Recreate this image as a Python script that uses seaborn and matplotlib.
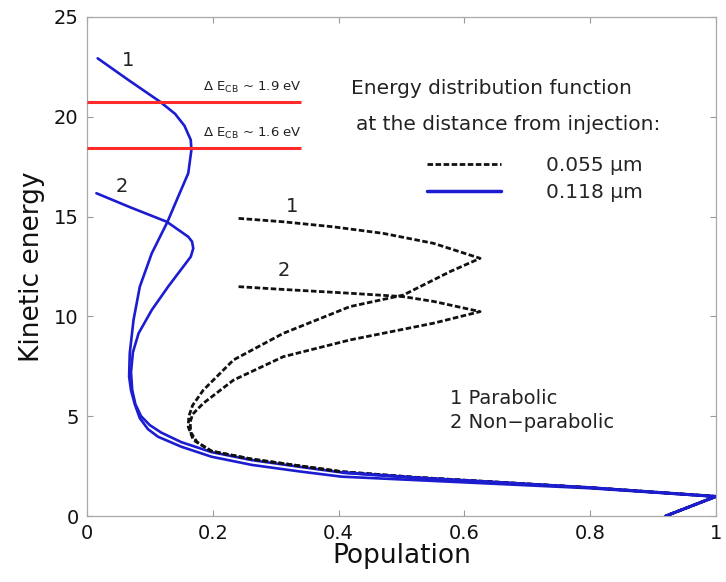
import matplotlib
matplotlib.use("Agg")
import matplotlib.pyplot as plt
from matplotlib.lines import Line2D
import pandas as pd
import seaborn as sns

# Energy distribution at 0.118 um (solid), curve 1 = parabolic band
pop_118_par = [0.017, 0.066, 0.116, 0.140, 0.155, 0.165, 0.166, 0.161, 0.145, 0.128,
               0.103, 0.084, 0.074, 0.068, 0.067, 0.070, 0.076, 0.084, 0.097, 0.113,
               0.150, 0.198, 0.262, 0.341, 0.405, 0.521, 0.800, 1.000, 0.920]
en_118_par = [22.93, 21.84, 20.76, 20.15, 19.55, 18.84, 18.34, 17.17, 16.00, 14.74,
              13.16, 11.49, 9.82, 8.15, 6.98, 6.30, 5.60, 4.90, 4.35, 3.97,
              3.47, 2.97, 2.56, 2.22, 1.97, 1.80, 1.39, 0.97, 0.00]

# Energy distribution at 0.118 um (solid), curve 2 = non-parabolic band
pop_118_np = [0.015, 0.070, 0.127, 0.161, 0.167, 0.169, 0.165, 0.129, 0.103, 0.082,
              0.073, 0.070, 0.072, 0.077, 0.086, 0.100, 0.118, 0.150, 0.198, 0.262,
              0.341, 0.405, 0.521, 0.800, 1.000, 0.920]
en_118_np = [16.17, 15.45, 14.74, 13.99, 13.75, 13.41, 12.99, 11.49, 10.32, 9.15,
             8.20, 7.20, 6.30, 5.60, 5.00, 4.55, 4.18, 3.70, 3.20, 2.80,
             2.45, 2.18, 1.92, 1.42, 0.98, 0.00]

# Energy distribution at 0.055 um (dashed), curve 1 = parabolic band
pop_055_par = [0.241, 0.312, 0.391, 0.471, 0.551, 0.625, 0.577, 0.503, 0.418, 0.312,
               0.233, 0.185, 0.168, 0.162, 0.161, 0.169, 0.198, 0.262, 0.341, 0.405,
               0.521, 0.800, 1.000, 0.920]
en_055_par = [14.91, 14.74, 14.49, 14.16, 13.66, 12.91, 12.24, 11.07, 10.49, 9.15,
              7.82, 6.31, 5.55, 5.00, 4.47, 3.81, 3.25, 2.85, 2.50, 2.22,
              1.94, 1.42, 0.98, 0.00]

# Energy distribution at 0.055 um (dashed), curve 2 = non-parabolic band
pop_055_np = [0.241, 0.312, 0.418, 0.503, 0.551, 0.625, 0.551, 0.418, 0.312, 0.233,
              0.185, 0.168, 0.164, 0.165, 0.175, 0.198, 0.262, 0.341, 0.405, 0.521,
              0.800, 1.000, 0.920]
en_055_np = [11.49, 11.35, 11.16, 10.99, 10.75, 10.24, 9.66, 8.82, 7.98, 6.81,
             5.65, 5.10, 4.70, 4.20, 3.70, 3.25, 2.85, 2.50, 2.22, 1.94,
             1.42, 0.98, 0.00]

# Conduction band offsets marked as horizontal lines
offset_energy = [20.76, 18.42]
offset_labels = [r"$\Delta$ E$_{\rm CB}$ ~ 1.9 eV", r"$\Delta$ E$_{\rm CB}$ ~ 1.6 eV"]
offset_extent = 0.34

legend_labels = ["0.055 \u03bcm", "0.118 \u03bcm"]
x_ticks = [0, 0.2, 0.4, 0.6, 0.8, 1.0]
x_tick_labels = ["0", "0.2", "0.4", "0.6", "0.8", "1"]
y_ticks = [0, 5, 10, 15, 20, 25]

BLUE = "#1c1cd0"
RED = "#ff2a2a"
DASH = (0, (2.0, 0.9))

sns.set_theme(style="white")
plt.rcParams["font.family"] = ["DejaVu Sans"]
plt.rcParams["mathtext.fontset"] = "dejavusans"

fig = plt.figure(figsize=(7.26, 5.82), dpi=100)
ax = fig.add_axes([0.1198, 0.1134, 0.8664, 0.8574])

def draw(pop, en, **kw):
    df = pd.DataFrame({"Population": pop, "Kinetic energy": en})
    sns.lineplot(data=df, x="Population", y="Kinetic energy", sort=False,
                 estimator=None, ax=ax, **kw)

draw(pop_118_par, en_118_par, color=BLUE, lw=1.9, zorder=2)
draw(pop_118_np, en_118_np, color=BLUE, lw=1.9, zorder=2)
draw(pop_055_par, en_055_par, color="#111111", lw=2.0, linestyle=DASH, zorder=3)
draw(pop_055_np, en_055_np, color="#111111", lw=2.0, linestyle=DASH, zorder=3)
# the shared high-population tail stays blue on top
draw(pop_118_np[-5:], en_118_np[-5:], color=BLUE, lw=2.2, zorder=4)

ax.hlines(offset_energy, 0, offset_extent, colors=RED, lw=2.2, zorder=5)
for e, lab in zip(offset_energy, offset_labels):
    ax.text(0.185, e + 0.35, lab, fontsize=9.5, color="#222222", va="bottom", ha="left")

# curve numbers
ax.text(0.055, 22.8, "1", fontsize=14, color="#222222", va="center")
ax.text(0.045, 16.5, "2", fontsize=14, color="#222222", va="center")
ax.text(0.316, 15.5, "1", fontsize=14, color="#222222", va="center")
ax.text(0.303, 12.3, "2", fontsize=14, color="#222222", va="center")
ax.text(0.577, 5.9, "1 Parabolic", fontsize=14, color="#222222", va="center")
ax.text(0.577, 4.7, "2 Non\u2212parabolic", fontsize=14, color="#222222", va="center")

# legend block
ax.text(0.419, 21.4, "Energy distribution function", fontsize=14.5,
        color="#222222", va="center")
ax.text(0.427, 19.6, "at the distance from injection:", fontsize=14.5,
        color="#222222", va="center")
handles = [Line2D([], [], color="#111111", lw=2.0, linestyle=DASH),
           Line2D([], [], color=BLUE, lw=2.5)]
ax.legend(handles, legend_labels, frameon=False, loc="upper left",
          bbox_to_anchor=(0.5405, 0.722), borderpad=0, borderaxespad=0,
          handlelength=3.7, handletextpad=2.2, labelspacing=0.4,
          prop={"size": 14.5})

ax.set_xlim(0, 1)
ax.set_ylim(0, 25)
ax.set_xticks(x_ticks)
ax.set_xticklabels(x_tick_labels)
ax.set_yticks(y_ticks)
ax.tick_params(direction="in", length=4, width=0.8, color="#9a9a9a",
               labelsize=14, labelcolor="#111111", top=True, right=True,
               bottom=True, left=True, pad=6)
for s in ax.spines.values():
    s.set_color("#a8a8a8")
    s.set_linewidth(0.9)
ax.set_xlabel("Population", fontsize=19, color="#111111", labelpad=0)
ax.set_ylabel("Kinetic energy", fontsize=19, color="#111111", labelpad=6)

fig.savefig("out.png", dpi=100, facecolor="white")
